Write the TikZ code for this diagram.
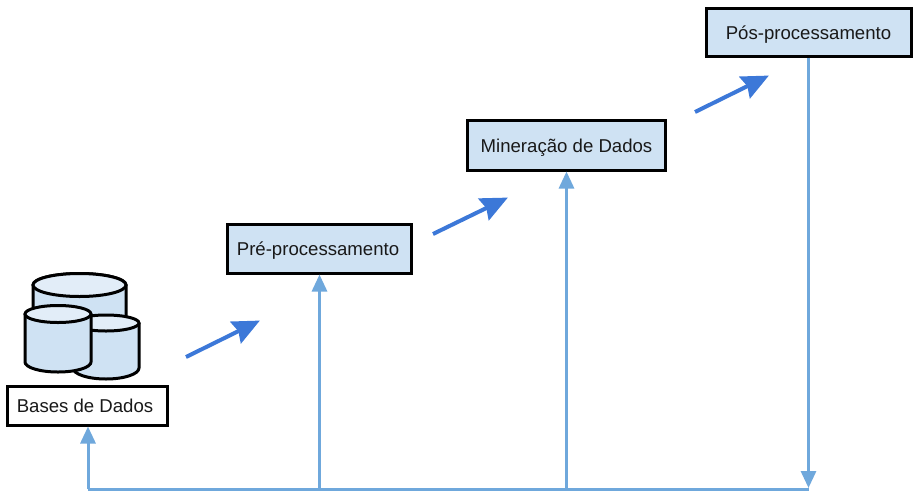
\documentclass[tikz,border=0pt]{standalone}
\usepackage{fontspec}
\setmainfont{Liberation Sans}
\usetikzlibrary{arrows.meta}
\definecolor{lblue}{HTML}{CFE2F3}
\definecolor{ltop}{HTML}{E2EDF8}
\definecolor{flow}{HTML}{6FA8DC}
\definecolor{adv}{HTML}{3C78D8}
\newcommand{\boxtext}[1]{\smash{\raisebox{-7pt}{#1}}}
\tikzset{
  stagebox/.style={draw=black,line width=3pt,fill=lblue,inner sep=0pt,font=\fontsize{18.6}{22}\selectfont,text=black!90},
  whitebox/.style={stagebox,fill=white},
  flowline/.style={draw=flow,line width=3pt},
  flowarrow/.style={flowline,-{Triangle[length=17pt,width=15pt]}},
  advarrow/.style={draw=adv,line width=4pt,-{Stealth[length=27pt,width=24pt,inset=3pt]},shorten >=-1pt},
  cyl/.style={draw=black,line width=3pt,fill=lblue,line join=round},
  cyltop/.style={draw=black,line width=3pt,fill=ltop}
}
\begin{document}
\begin{tikzpicture}[x=1pt,y=-1pt]
\useasboundingbox (0,0) rectangle (918,496);
% cylinders
\draw[cyl] (33,285) -- (33,345) -- (126,345) -- (126,285) arc[start angle=0,end angle=-180,x radius=46.5,y radius=11.5] -- cycle;
\draw[cyltop] (79.5,285) ellipse[x radius=46.5,y radius=11.5];
\draw[cyl] (73,323) -- (73,368) arc[start angle=180,end angle=360,x radius=33,y radius=-11] -- (139,323) -- cycle;
\draw[cyltop] (106,323) ellipse[x radius=33,y radius=8];
\draw[cyl] (25,314) -- (25,362) arc[start angle=180,end angle=360,x radius=33,y radius=-10] -- (91,314) -- cycle;
\draw[cyltop] (58,314) ellipse[x radius=33,y radius=8.5];
% boxes
\node[whitebox,minimum width=160pt,minimum height=39pt] (bases) at (87,405.5) {\boxtext{Bases de Dados}\hspace*{4pt}};
\node[stagebox,minimum width=184pt,minimum height=49pt] (pre) at (319.5,248.5) {\boxtext{Pré-processamento}\hspace*{3pt}};
\node[stagebox,minimum width=198pt,minimum height=50pt] (min) at (566.5,145) {\boxtext{Mineração de Dados}};
\node[stagebox,minimum width=205pt,minimum height=48pt] (pos) at (808.5,32) {\boxtext{Pós-processamento}};
% flow
\coordinate (c) at (808.5,489);
\coordinate (b0) at (88,489);
\coordinate (b1) at (319.5,489);
\coordinate (b2) at (566.5,489);
\draw[flowline] (b0) -- (c);
\draw[flowarrow] (b0) -- (b0 |- bases.south);
\draw[flowarrow] (b1) -- (pre.south);
\draw[flowarrow] (b2) -- (min.south);
\draw[flowarrow,shorten >=1pt] (pos.south) -- (c);
% advance arrows
\coordinate (a1) at (186,357); \coordinate (a2) at (259,321);
\coordinate (a3) at (433,234); \coordinate (a4) at (507,198);
\coordinate (a5) at (695,112); \coordinate (a6) at (768,76);
\draw[advarrow] (a1) -- (a2);
\draw[advarrow] (a3) -- (a4);
\draw[advarrow] (a5) -- (a6);
\end{tikzpicture}
\end{document}
